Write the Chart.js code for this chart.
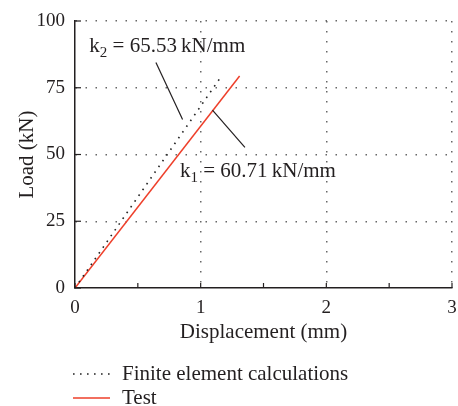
<!DOCTYPE html>
<html>
<head>
<meta charset="utf-8">
<script src="https://cdn.jsdelivr.net/npm/chart.js@4"></script>
<style>
  html, body { margin: 0; padding: 0; background: #fff; }
  #wrap { width: 458px; height: 406px; }
</style>
</head>
<body>
<div id="wrap"><canvas id="myChart" width="458" height="406"></canvas></div>
<script>
// data
const feDisp = [0, 1.17];
const feLoad = [0, 79.7];
const testDisp = [0, 1.31];
const testLoad = [0, 79.4];
const seriesNames = ['Finite element calculations', 'Test'];

const xTickValues = [0, 0.5, 1, 1.5, 2, 2.5, 3];
const yTickValues = [0, 25, 50, 75, 100];

// stiffness labels (leader line ends + text anchor, in data units)
const k2Leader = [[0.644, 84.5], [0.856, 63.1]];
const k1Leader = [[1.094, 66.6], [1.352, 52.7]];
const k2Anchor = [0.114, 88.4];
const k1Anchor = [0.835, 41.6];
const k2Text = ['k', '2', ' = 65.53\u2009kN/mm'];
const k1Text = ['k', '1', ' = 60.71\u2009kN/mm'];

const serif = "'Liberation Serif', 'Times New Roman', serif";
const ink = '#231f20';
const red = '#ee3f2a';

const toPoints = (xs, ys) => xs.map((x, i) => ({ x: x, y: ys[i] }));

// inward ticks, stiffness notes, legend under the axes
const extras = {
  id: 'extras',
  afterDraw(chart) {
    const ctx = chart.ctx;
    const xs = chart.scales.x;
    const ys = chart.scales.y;
    const area = chart.chartArea;

    ctx.save();
    ctx.strokeStyle = ink;
    ctx.lineWidth = 1.2;
    xTickValues.forEach(v => {
      const px = xs.getPixelForValue(v);
      ctx.beginPath();
      ctx.moveTo(px, area.bottom);
      ctx.lineTo(px, area.bottom - 5);
      ctx.stroke();
    });
    yTickValues.forEach(v => {
      const py = ys.getPixelForValue(v);
      ctx.beginPath();
      ctx.moveTo(area.left, py);
      ctx.lineTo(area.left + 6, py);
      ctx.stroke();
    });

    // leader lines
    [k2Leader, k1Leader].forEach(seg => {
      ctx.beginPath();
      ctx.moveTo(xs.getPixelForValue(seg[0][0]), ys.getPixelForValue(seg[0][1]));
      ctx.lineTo(xs.getPixelForValue(seg[1][0]), ys.getPixelForValue(seg[1][1]));
      ctx.stroke();
    });

    // k labels with subscript
    ctx.fillStyle = ink;
    ctx.textBaseline = 'alphabetic';
    [[k2Anchor, k2Text], [k1Anchor, k1Text]].forEach(item => {
      let px = xs.getPixelForValue(item[0][0]);
      const py = ys.getPixelForValue(item[0][1]);
      ctx.font = '21px ' + serif;
      ctx.fillText(item[1][0], px, py);
      px += ctx.measureText(item[1][0]).width;
      ctx.font = '15px ' + serif;
      ctx.fillText(item[1][1], px, py + 5);
      px += ctx.measureText(item[1][1]).width;
      ctx.font = '21px ' + serif;
      ctx.fillText(item[1][2], px, py);
    });

    // legend
    ctx.font = '21px ' + serif;
    ctx.textBaseline = 'middle';
    chart.data.datasets.forEach((ds, i) => {
      const ly = 374 + i * 24;
      ctx.strokeStyle = ds.borderColor;
      ctx.lineWidth = ds.borderWidth;
      ctx.setLineDash(ds.borderDash || []);
      ctx.beginPath();
      ctx.moveTo(73, ly);
      ctx.lineTo(110, ly);
      ctx.stroke();
      ctx.setLineDash([]);
      ctx.fillStyle = ink;
      ctx.fillText(ds.label, 122, ly);
    });
    ctx.restore();
  }
};

const gridColor = ctx => (ctx.tick && ctx.tick.value > 0 && Number.isInteger(ctx.tick.value)) ? '#666' : 'rgba(0,0,0,0)';

const ctx = document.getElementById('myChart').getContext('2d');
const myChart = new Chart(ctx, {
  type: 'scatter',
  data: {
    datasets: [
      {
        label: seriesNames[0],
        data: toPoints(feDisp, feLoad),
        showLine: true,
        borderColor: '#222',
        borderWidth: 1.6,
        borderDash: [1.6, 5.4],
        pointRadius: 0
      },
      {
        label: seriesNames[1],
        data: toPoints(testDisp, testLoad),
        showLine: true,
        borderColor: red,
        borderWidth: 1.5,
        pointRadius: 0
      }
    ]
  },
  options: {
    responsive: false,
    animation: false,
    layout: { padding: { left: 0, right: 6, top: 21, bottom: 61 } },
    plugins: {
      legend: { display: false },
      tooltip: { enabled: false }
    },
    scales: {
      x: {
        type: 'linear',
        min: 0,
        max: 3,
        afterBuildTicks: axis => { axis.ticks = xTickValues.map(v => ({ value: v })); },
        afterFit: axis => {
          axis.height = 57;
          // keep the plot right edge where the figure has it
          axis.paddingLeft = 0;
          axis.paddingRight = 0;
        },
        // border.dash styles the grid lines in v4, the axis line stays solid
        border: { display: true, color: ink, width: 1.5, dash: [1.5, 8.5] },
        grid: {
          drawTicks: false,
          color: gridColor,
          lineWidth: 1.5
        },
        ticks: {
          padding: 9,
          color: ink,
          font: { family: serif, size: 19 },
          callback: v => Number.isInteger(v) ? String(v) : ''
        },
        title: {
          display: true,
          text: 'Displacement (mm)',
          color: ink,
          font: { family: serif, size: 21 },
          padding: { top: 0, bottom: 0 }
        }
      },
      y: {
        type: 'linear',
        min: 0,
        max: 100,
        afterBuildTicks: axis => { axis.ticks = yTickValues.map(v => ({ value: v })); },
        afterFit: axis => {
          axis.width = 75;
          axis.paddingTop = 0;
          axis.paddingBottom = 0;
        },
        border: { display: true, color: ink, width: 1.5, dash: [1.5, 8.5] },
        grid: {
          drawTicks: false,
          color: gridColor,
          lineWidth: 1.5
        },
        ticks: {
          padding: 10,
          color: ink,
          font: { family: serif, size: 19 }
        },
        title: {
          display: true,
          text: 'Load (kN)',
          color: ink,
          font: { family: serif, size: 21 },
          padding: { top: 15, bottom: 0 }
        }
      }
    }
  },
  plugins: [extras]
});
</script>
</body>
</html>
